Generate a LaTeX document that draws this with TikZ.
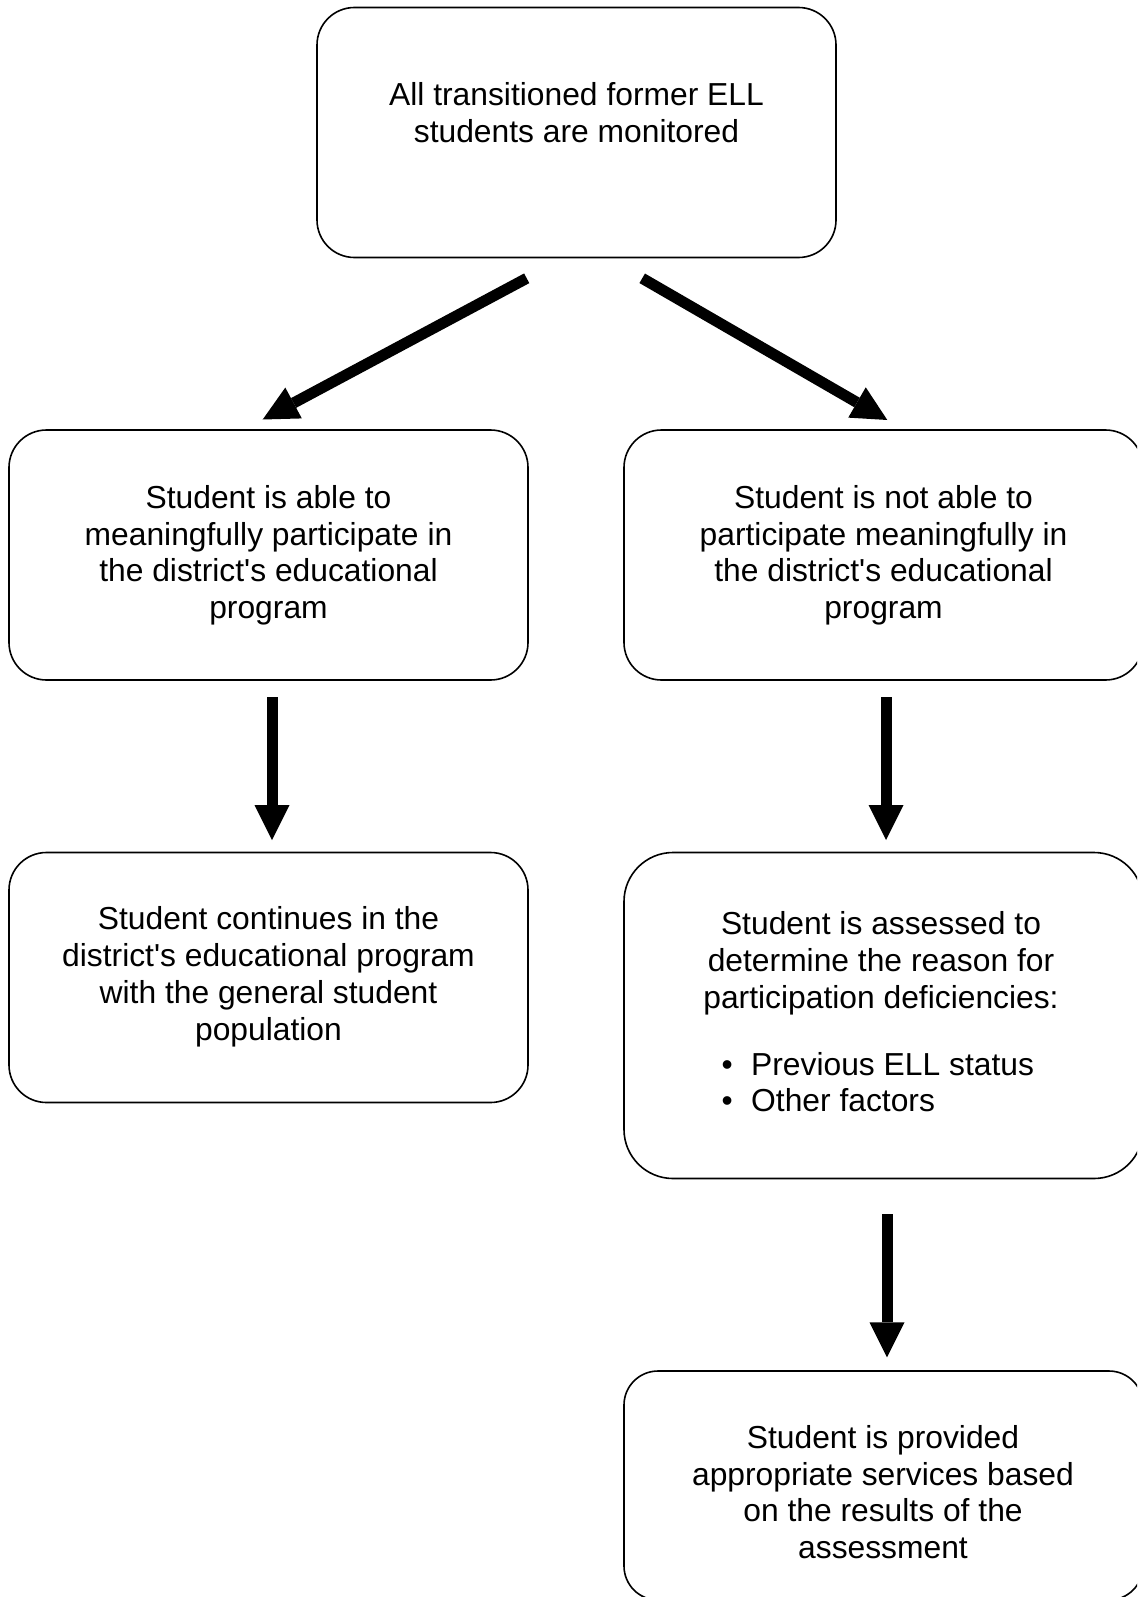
\documentclass[tikz,border=0pt]{standalone}
\usepackage{fontspec}
\setmainfont{Liberation Sans}
\usetikzlibrary{arrows.meta}
\begin{document}
\begin{tikzpicture}[x=1pt,y=-1pt,
  box/.style={draw=black, line width=1.6pt, rectangle, inner sep=0pt, minimum width=519pt},
  txt/.style={font=\fontsize{31.8pt}{36.7pt}\selectfont, align=center, inner sep=0pt},
  arr/.style={line width=11pt, -{Triangle[length=35pt,width=35pt,line width=0pt]}}
]
\useasboundingbox (0,0) rectangle (1137,1597);
\clip (0,0) rectangle (1137,1597);

% boxes
\node[box, minimum height=250pt, rounded corners=37.5pt] (top) at (576.5,132.5) {};
\node[box, minimum height=250pt, rounded corners=37.5pt] (l1) at (268.5,555) {};
\node[box, minimum height=250pt, rounded corners=37.5pt] (r1) at (883.5,555) {};
\node[box, minimum height=250pt, rounded corners=37.5pt] (l2) at (268.5,977.5) {};
\node[box, minimum height=326pt, rounded corners=49pt] (r2) at (883.5,1015.5) {};
\node[box, minimum height=229pt, rounded corners=34pt] (r3) at (883.5,1485.5) {};

% texts
\node[txt] (ttop) at (576.5,117) {\strut All transitioned former ELL\\students are monitored\strut};
\node[txt] (tl1) at (268.5,556.2) {\strut Student is able to\\meaningfully participate in\\the district\textquotesingle s educational\\program\strut};
\node[txt] (tr1) at (883.5,556.2) {\strut Student is not able to\\participate meaningfully in\\the district\textquotesingle s educational\\program\strut};
\node[txt] (tl2) at (268.5,977.65) {\strut Student continues in the\\district\textquotesingle s educational program\\with the general student\\population\strut};
\node[txt] (tr2) at (881,964.3) {\strut Student is assessed to\\determine the reason for\\participation deficiencies:\strut};
\node[txt, align=left, anchor=west] (tr2b) at (721.4,1086) {\strut\makebox[29.6pt][l]{\textbullet}Previous ELL status\\\makebox[29.6pt][l]{\textbullet}Other factors\strut};
\node[txt] (tr3) at (883,1496) {\strut Student is provided\\appropriate services based\\on the results of the\\assessment\strut};

% arrows
\coordinate (a1s) at (526.7,278.3); \coordinate (a1e) at (262.7,419.5);
\coordinate (a2s) at (642.2,278.3); \coordinate (a2e) at (887.3,420);
\coordinate (a3s) at (272,697.3);  \coordinate (a3e) at (272,840);
\coordinate (a4s) at (886,697.3);  \coordinate (a4e) at (886,840);
\coordinate (a5s) at (887,1214.3); \coordinate (a5e) at (887,1357.3);
\draw[arr] (a1s) -- (a1e);
\draw[arr] (a2s) -- (a2e);
\draw[arr] (a3s) -- (a3e);
\draw[arr] (a4s) -- (a4e);
\draw[arr] (a5s) -- (a5e);
\end{tikzpicture}
\end{document}
